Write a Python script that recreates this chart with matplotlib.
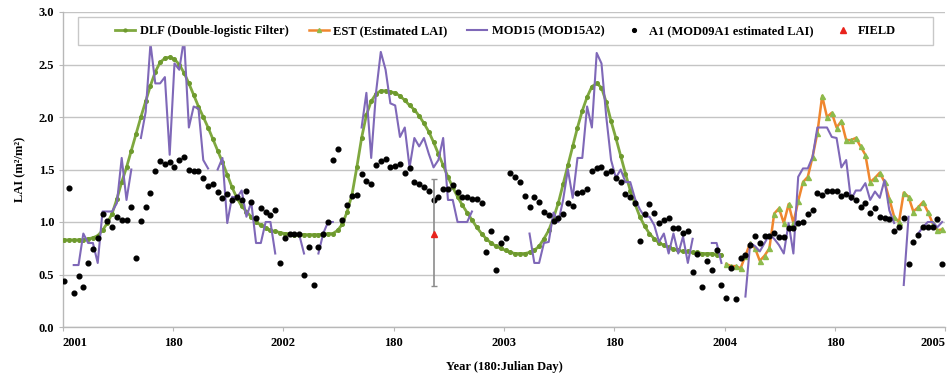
import numpy as np
import matplotlib
matplotlib.use("Agg")
import matplotlib.pyplot as plt
from matplotlib.patches import Rectangle

nan = np.nan

# ---- categories (8-day composites, 46 per year) ----
tick_pos = [0, 23, 46, 69, 92, 115, 138, 161, 184]
tick_labels = ["2001", "180", "2002", "180", "2003", "180", "2004", "180", "2005"]

# ---- DLF (Double-logistic Filter), 2001-2003 ----
dlf_2001 = [0.83, 0.83, 0.83, 0.83, 0.83, 0.84, 0.85, 0.87, 0.92, 0.99,
            1.08, 1.22, 1.38, 1.52, 1.68, 1.84, 2.00, 2.15, 2.30, 2.43,
            2.52, 2.56, 2.57, 2.55, 2.50, 2.42, 2.32, 2.21, 2.10, 2.00,
            1.90, 1.79, 1.68, 1.57, 1.45, 1.33, 1.23, 1.15, 1.10, 1.05,
            1.00, 0.97, 0.94, 0.92, 0.91, 0.90]
dlf_2002 = [0.89, 0.89, 0.88, 0.88, 0.88, 0.88, 0.88, 0.88, 0.88, 0.89,
            0.89, 0.92, 0.98, 1.10, 1.26, 1.52, 1.80, 2.02, 2.15, 2.22,
            2.25, 2.25, 2.24, 2.23, 2.20, 2.16, 2.11, 2.07, 2.01, 1.94,
            1.86, 1.76, 1.65, 1.54, 1.43, 1.33, 1.24, 1.16, 1.09, 1.02,
            0.95, 0.89, 0.84, 0.80, 0.77, 0.75]
dlf_2003 = [0.73, 0.71, 0.70, 0.70, 0.70, 0.71, 0.73, 0.77, 0.84, 0.92,
            1.04, 1.18, 1.36, 1.54, 1.72, 1.90, 2.06, 2.19, 2.29, 2.32,
            2.28, 2.14, 1.96, 1.80, 1.63, 1.46, 1.30, 1.17, 1.05, 0.96,
            0.89, 0.84, 0.80, 0.78, 0.76, 0.74, 0.73, 0.72, 0.72, 0.71,
            0.71, 0.70, 0.70, 0.70, 0.69, 0.69]

# ---- EST (Estimated LAI), 2004 ----
est_2004 = [0.60, 0.58, 0.58, 0.56, 0.68, 0.80, 0.75, 0.63, 0.68, 0.75,
            1.08, 1.13, 0.99, 1.17, 0.99, 1.20, 1.38, 1.43, 1.62, 1.85,
            2.20, 2.00, 2.04, 1.90, 1.96, 1.78, 1.78, 1.80, 1.72, 1.64,
            1.38, 1.42, 1.47, 1.38, 1.22, 1.05, 1.00, 1.28, 1.24, 1.10,
            1.14, 1.19, 1.10, 0.99, 0.92, 0.93]

# ---- MOD15 (MOD15A2) ----
mod15_2001 = [nan, nan, 0.59, 0.59, 0.89, 0.80, 0.80, 0.61, 1.10, 1.10,
              1.10, 1.18, 1.61, 1.21, 1.50, nan, 1.80, 2.05, 2.70, 2.32,
              2.32, 2.38, 1.64, 2.51, 2.45, 2.75, 1.90, 2.10, 2.08, 1.59,
              1.51, nan, 1.50, 1.61, 0.99, 1.24, 1.23, 1.30, 1.05, 1.19,
              0.80, 0.80, 1.00, 1.00, 0.70, nan]
mod15_2002 = [nan, nan, 0.88, 0.88, 0.70, nan, nan, 0.70, 0.89, 1.00,
              1.00, nan, nan, nan, nan, nan, 1.90, 2.23, 1.61, 2.23,
              2.62, 2.45, 2.13, 2.11, 1.81, 1.90, 1.52, 1.80, 1.72, 1.80,
              1.65, 1.52, 1.59, 1.80, 1.21, 1.21, 1.00, 1.00, 1.00, 1.10,
              nan, nan, nan, nan, nan, nan]
mod15_2003 = [nan, nan, nan, nan, nan, 0.89, 0.61, 0.61, 0.80, 0.81,
              1.09, 1.00, 1.21, 1.50, 1.23, 1.61, 1.61, 2.10, 1.90, 2.61,
              2.51, 2.00, 1.59, 1.42, 1.50, 1.38, 1.38, 1.22, 1.12, 1.05,
              1.05, 0.97, 0.81, 0.89, 0.70, 0.89, 0.70, 0.86, 0.61, 0.84,
              nan, nan, nan, 0.80, 0.80, 0.61]
mod15_2004 = [nan, nan, nan, nan, 0.29, 0.80, 0.77, 0.72, 0.80, 0.88,
              0.84, 0.78, 0.70, 0.99, 0.70, 1.43, 1.51, 1.51, 1.62, 1.90,
              1.90, 1.90, 1.81, 1.80, 1.52, 1.59, 1.21, 1.30, 1.30, 1.37,
              1.21, 1.29, 1.23, 1.40, 1.11, 0.99, nan, 0.40, 1.05, nan,
              0.89, 0.95, 1.00, 1.00, 0.95, 1.00]

# ---- A1 (MOD09A1 estimated LAI) ----
a1_2001 = [0.44, 1.32, 0.32, 0.49, 0.38, 0.61, 0.74, 0.85, 1.08, 1.01,
           0.95, 1.05, 1.02, 1.02, 1.14, 0.66, 1.01, 1.14, 1.28, 1.49,
           1.58, 1.55, 1.57, 1.52, 1.59, 1.62, 1.50, 1.49, 1.49, 1.42,
           1.34, 1.36, 1.29, 1.23, 1.27, 1.21, 1.24, 1.21, 1.30, 1.19,
           1.04, 1.13, 1.10, 1.07, 1.11, 0.61]
a1_2002 = [0.85, 0.89, 0.89, 0.89, 0.50, 0.76, 0.40, 0.76, 0.89, 1.00,
           1.59, 1.70, 1.02, 1.16, 1.25, 1.26, 1.46, 1.39, 1.36, 1.54,
           1.58, 1.60, 1.52, 1.53, 1.55, 1.47, 1.51, 1.38, 1.36, 1.33,
           1.30, 1.21, 1.24, 1.31, 1.31, 1.35, 1.29, 1.24, 1.24, 1.22,
           1.22, 1.18, 0.71, 0.91, 0.54, 0.80]
a1_2003 = [0.85, 1.47, 1.43, 1.38, 1.25, 1.14, 1.24, 1.19, 1.10, 1.07,
           1.01, 1.04, 1.08, 1.18, 1.15, 1.28, 1.29, 1.31, 1.49, 1.51,
           1.52, 1.47, 1.49, 1.42, 1.38, 1.27, 1.24, 1.18, 0.82, 1.08,
           1.17, 1.09, 0.99, 1.02, 1.04, 0.94, 0.94, 0.90, 0.91, 0.52,
           0.70, 0.38, 0.63, 0.54, 0.73, 0.40]
a1_2004 = [0.28, 0.56, 0.27, 0.66, 0.69, 0.78, 0.87, 0.80, 0.87, 0.87,
           0.90, 0.86, 0.86, 0.94, 0.94, 0.99, 1.00, 1.08, 1.11, 1.28,
           1.26, 1.30, 1.30, 1.30, 1.25, 1.27, 1.24, 1.21, 1.14, 1.18,
           1.09, 1.13, 1.05, 1.04, 1.03, 0.91, 0.95, 1.04, 0.60, 0.81,
           0.88, 0.95, 0.95, 0.95, 1.03, 0.60]

# ---- FIELD ----
field_idx = [77.3]
field_val = [0.89]
field_lo = [0.39]
field_hi = [1.41]

# ---------------------------------------------------------------
plt.rcParams['font.family'] = ['Liberation Serif', 'DejaVu Serif']
plt.rcParams['font.weight'] = 'bold'

dlf = np.array(dlf_2001 + dlf_2002 + dlf_2003)
est = np.array(est_2004)
mod15 = np.array(mod15_2001 + mod15_2002 + mod15_2003 + mod15_2004)
a1 = np.array(a1_2001 + a1_2002 + a1_2003 + a1_2004)

off = 0.3
x_all = np.arange(184) + off
x_dlf = np.arange(len(dlf)) + off
x_est = np.arange(138, 138 + len(est)) + off

fig = plt.figure(figsize=(9.47, 3.75), dpi=100)
ax = fig.add_axes([0.0662, 0.128, 0.9322, 0.840])

green = '#7fa83f'
gmark = '#6e9a2e'
orange = '#f0862e'
purple = '#7f68b8'
gridc = '#c4c4c4'

ax.set_ylim(0, 3.0)
ax.set_xlim(0, 184)
ax.set_yticks(np.arange(0, 3.01, 0.5))
ax.set_yticklabels([f"{v:.1f}" for v in np.arange(0, 3.01, 0.5)])
ax.set_xticks(tick_pos)
ax.set_xticklabels(tick_labels)
ax.yaxis.grid(True, color=gridc, linewidth=1.0)
ax.set_axisbelow(True)
for s in ['top', 'right']:
    ax.spines[s].set_visible(False)
for s in ['left', 'bottom']:
    ax.spines[s].set_color('#b8b8b8')
    ax.spines[s].set_linewidth(1.0)
ax.tick_params(axis='both', length=3, color='#b8b8b8', labelsize=9, pad=3)
ax.tick_params(axis='x', pad=4)
xl = ax.get_xticklabels()
xl[0].set_horizontalalignment('left')
xl[-1].set_horizontalalignment('right')

l_dlf, = ax.plot(x_dlf, dlf, color=green, lw=2.0, marker='o', ms=2.6,
                 mfc=gmark, mec=gmark, zorder=3,
                 label='DLF (Double-logistic Filter)')
l_est, = ax.plot(x_est, est, color=orange, lw=1.8, marker='^', ms=3.6,
                 mfc='#8dbb4c', mec='#8dbb4c', zorder=3,
                 label='EST (Estimated LAI)')
l_mod, = ax.plot(x_all, mod15, color=purple, lw=1.5, zorder=4,
                 label='MOD15 (MOD15A2)')
l_a1, = ax.plot(x_all, a1, ls='none', marker='o', ms=3.4, color='black',
                zorder=5, label='A1 (MOD09A1 estimated LAI)')
ax.errorbar(field_idx, field_val,
            yerr=[[field_val[0] - field_lo[0]], [field_hi[0] - field_val[0]]],
            fmt='none', ecolor='#8c8c8c', elinewidth=1.2, capsize=2.5,
            capthick=1.0, zorder=5)
l_f, = ax.plot(field_idx, field_val, ls='none', marker='^', ms=5,
               color='#e8231c', zorder=6, label='FIELD')

# legend box (drawn separately so its size matches the reference)
box = Rectangle((0.0173, 0.8952), 0.9685, 0.0888, transform=ax.transAxes,
                facecolor='white', edgecolor='#c8c8c8', linewidth=1.0,
                zorder=10, clip_on=False)
ax.add_patch(box)

leg = ax.legend(handles=[l_dlf, l_est, l_mod, l_a1, l_f], ncol=5,
                loc='center', bbox_to_anchor=(0.5016, 0.9397),
                fontsize=9, frameon=False, markerscale=0.8,
                handlelength=1.6, handletextpad=0.35, columnspacing=1.6,
                borderpad=0.2, borderaxespad=0)
leg.set_zorder(11)
for t in leg.get_texts():
    t.set_fontweight('bold')

ax.set_ylabel('LAI (m²/m²)', fontsize=9, fontweight='bold', labelpad=9)
ax.set_xlabel('Year (180:Julian Day)', fontsize=9, fontweight='bold', labelpad=9)

fig.savefig('out.png', dpi=100)
